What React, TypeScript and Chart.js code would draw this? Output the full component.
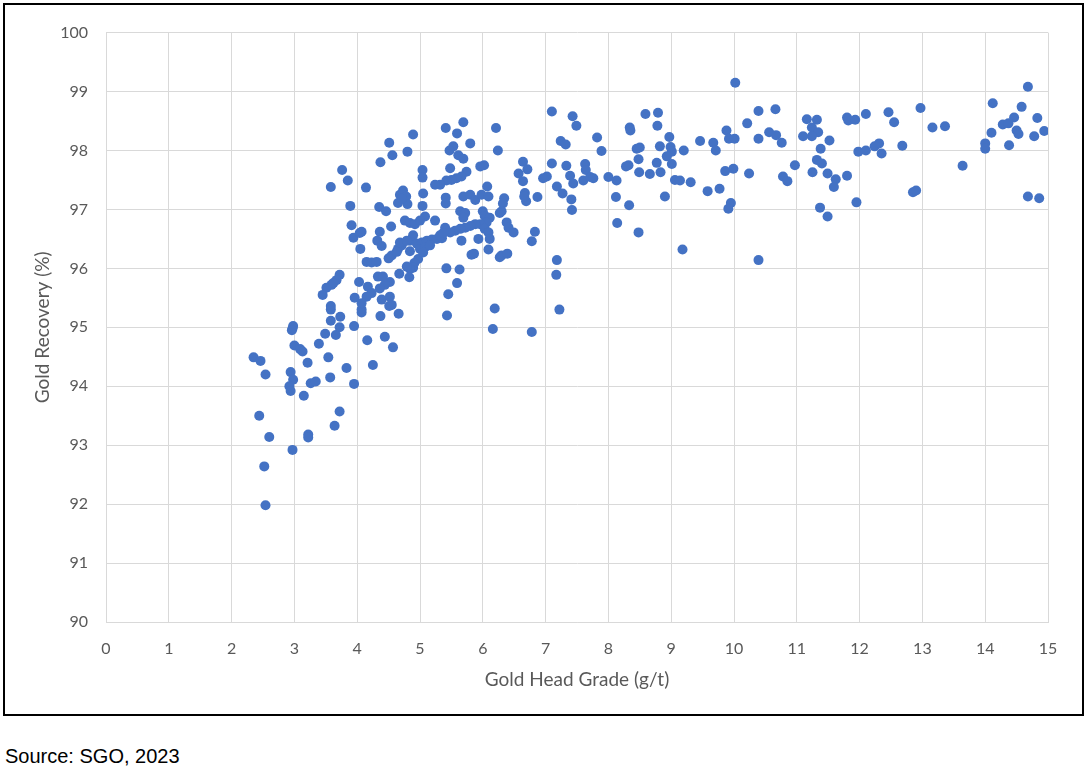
import React, { useEffect, useRef } from 'react';
import { Chart, registerables } from 'chart.js';

Chart.register(...registerables);

type Pt = [number, number]; // [head grade g/t, recovery %]

// head grade below ~4.7 g/t, lower recoveries
const lowGradeTail: Pt[] = [
  [2.35, 94.49], [2.46, 94.43], [2.54, 94.2], [2.44, 93.5], [2.6, 93.14], [2.52, 92.64], [2.54, 91.98], [2.97, 94.98],
  [2.98, 95.02], [2.96, 94.95], [3.0, 94.69], [3.09, 94.63], [3.13, 94.59], [3.21, 94.4], [2.94, 94.24], [2.98, 94.11],
  [2.92, 94.0], [2.94, 93.92], [3.15, 93.84], [3.26, 94.05], [3.34, 94.08], [2.97, 92.92], [3.22, 93.18], [3.22, 93.13],
  [3.39, 94.72], [3.49, 94.89], [3.54, 94.49], [3.57, 94.15], [3.83, 94.31], [3.95, 94.04], [3.72, 93.57], [3.64, 93.33],
  [3.58, 95.11], [3.66, 94.87], [3.72, 95.0], [3.73, 95.18], [3.58, 95.3], [3.58, 95.36], [3.95, 95.02], [4.16, 94.78],
  [4.25, 94.36], [4.44, 94.84], [4.57, 94.66], [4.37, 95.19], [4.66, 95.23], [4.51, 95.36], [4.07, 95.3], [4.07, 95.25],
];

// 3.4 - 5 g/t
const grade3to5: Pt[] = [
  [4.56, 97.92], [4.8, 97.98], [4.37, 97.8], [3.76, 97.67], [3.85, 97.49], [3.58, 97.38], [4.14, 97.37], [3.89, 97.06],
  [3.91, 96.73], [3.94, 96.52], [4.04, 96.6], [4.07, 96.62], [4.05, 96.33], [4.35, 97.04], [4.46, 96.97], [4.36, 96.62],
  [4.32, 96.47], [4.39, 96.38], [4.54, 96.71], [4.68, 97.25], [4.73, 97.32], [4.78, 97.22], [4.65, 97.11], [4.8, 97.09],
  [4.71, 97.18], [4.76, 96.81], [4.84, 96.77], [4.92, 96.75], [4.55, 96.22], [4.65, 96.33], [4.71, 96.39], [4.63, 96.28],
  [4.84, 96.47], [4.89, 96.56], [4.5, 96.17], [4.84, 96.29], [4.15, 96.11], [4.23, 96.1], [4.31, 96.11], [4.97, 96.16],
  [4.91, 96.09], [4.89, 96.01], [4.84, 95.99], [4.67, 95.91], [4.83, 95.85], [4.52, 95.77], [4.44, 95.72], [4.03, 95.77],
  [4.17, 95.69], [4.33, 95.86], [4.41, 95.86], [4.36, 95.66], [4.23, 95.58], [4.15, 95.52], [3.96, 95.5], [4.07, 95.41],
  [4.39, 95.47], [4.52, 95.52], [4.55, 95.38], [3.72, 95.89], [3.67, 95.8], [3.59, 95.72], [3.51, 95.67], [3.45, 95.55],
  [3.62, 95.75], [4.51, 98.13], [4.89, 98.27], [4.68, 96.44], [4.79, 96.47], [4.95, 96.42], [4.79, 96.03],
];

// 5 - 7.2 g/t
const grade5to7: Pt[] = [
  [7.1, 98.66], [5.41, 98.38], [5.69, 98.48], [5.59, 98.29], [5.8, 98.12], [6.21, 98.38], [6.24, 98.0], [5.53, 98.07],
  [5.47, 98.0], [5.61, 97.92], [5.69, 97.86], [5.48, 97.7], [5.04, 97.67], [5.04, 97.54], [5.96, 97.73], [6.02, 97.75],
  [5.74, 97.64], [5.66, 97.56], [5.58, 97.53], [5.5, 97.5], [5.42, 97.49], [5.32, 97.42], [5.24, 97.42], [6.07, 97.39],
  [6.64, 97.81], [6.71, 97.68], [6.57, 97.61], [6.64, 97.48], [7.02, 97.56], [6.96, 97.53], [7.1, 97.78], [7.18, 97.39],
  [6.67, 97.28], [6.69, 97.14], [6.87, 97.21], [6.66, 97.22], [5.05, 97.27], [5.04, 97.06], [5.41, 97.2], [5.41, 97.1],
  [5.69, 97.22], [5.8, 97.25], [5.88, 97.16], [5.98, 97.25], [6.09, 97.22], [6.34, 97.19], [6.32, 97.1], [5.64, 96.97],
  [5.72, 96.94], [5.69, 96.86], [6.0, 96.97], [6.03, 96.89], [6.11, 96.86], [6.27, 96.94], [6.3, 96.97], [6.06, 96.78],
  [5.96, 96.75], [5.88, 96.75], [5.8, 96.72], [5.72, 96.69], [5.64, 96.67], [5.56, 96.64], [5.48, 96.61], [5.4, 96.69],
  [6.38, 96.78], [6.41, 96.69], [6.49, 96.61], [6.03, 96.67], [6.09, 96.61], [6.11, 96.5], [5.93, 96.5], [5.66, 96.47],
  [6.09, 96.32], [5.82, 96.23], [5.86, 96.25], [6.27, 96.19], [6.3, 96.22], [6.39, 96.25], [6.83, 96.62], [6.78, 96.46],
  [7.18, 96.14], [7.17, 95.89], [5.42, 96.0], [5.63, 95.98], [5.59, 95.75], [5.45, 95.56], [5.43, 95.2], [6.19, 95.32],
  [6.16, 94.97], [6.78, 94.92], [7.22, 95.3], [5.08, 96.88], [5.24, 96.81], [5.03, 96.44], [5.11, 96.47], [5.19, 96.49],
  [5.27, 96.5], [5.35, 96.51], [5.0, 96.33], [5.08, 96.36], [5.16, 96.39], [5.32, 96.56], [5.37, 96.6], [5.05, 96.27],
  [5.0, 96.81],
];

// 7.2 - 10.4 g/t
const grade7to10: Pt[] = [
  [10.02, 99.15], [7.43, 98.58], [7.49, 98.42], [7.24, 98.16], [7.32, 98.1], [7.82, 98.22], [7.89, 97.99], [8.59, 98.62],
  [8.79, 98.64], [8.34, 98.39], [8.35, 98.34], [8.78, 98.42], [8.97, 98.23], [8.82, 98.07], [8.99, 98.06], [9.01, 97.98],
  [8.45, 98.03], [8.5, 98.05], [9.46, 98.16], [9.67, 98.13], [9.71, 98.0], [9.2, 98.0], [9.88, 98.34], [9.92, 98.2],
  [10.01, 98.2], [10.21, 98.46], [10.39, 98.67], [10.39, 98.2], [7.33, 97.74], [7.39, 97.57], [7.44, 97.44], [7.27, 97.27],
  [7.41, 97.17], [7.42, 96.99], [7.63, 97.77], [7.64, 97.67], [7.6, 97.49], [7.71, 97.55], [7.76, 97.53], [8.0, 97.55],
  [8.13, 97.49], [8.12, 97.21], [8.33, 97.07], [8.14, 96.77], [8.48, 96.61], [8.32, 97.75], [8.28, 97.73], [8.48, 97.85],
  [8.49, 97.63], [8.66, 97.6], [8.77, 97.79], [8.83, 97.63], [8.9, 97.22], [8.93, 97.9], [9.01, 97.77], [9.06, 97.5],
  [9.14, 97.49], [9.31, 97.46], [9.18, 96.32], [9.58, 97.31], [9.77, 97.35], [9.86, 97.65], [9.99, 97.69], [10.24, 97.61],
  [9.95, 97.11], [9.91, 97.01], [10.39, 96.14],
];

// 10.4 - 13 g/t
const grade10to13: Pt[] = [
  [10.66, 98.7], [10.56, 98.31], [10.67, 98.26], [10.76, 98.13], [11.16, 98.53], [11.32, 98.52], [11.24, 98.39], [11.34, 98.31],
  [11.1, 98.24], [11.24, 98.24], [11.52, 98.17], [11.38, 98.03], [11.8, 98.56], [11.82, 98.51], [11.93, 98.52], [12.1, 98.62],
  [12.46, 98.65], [12.55, 98.48], [11.98, 97.98], [12.1, 98.0], [12.24, 98.07], [12.31, 98.12], [12.35, 97.95], [12.68, 98.08],
  [10.78, 97.56], [10.85, 97.48], [10.97, 97.75], [11.32, 97.84], [11.4, 97.78], [11.25, 97.63], [11.49, 97.61], [11.62, 97.51],
  [11.59, 97.38], [11.8, 97.57], [11.37, 97.03], [11.49, 96.88], [11.95, 97.12], [12.85, 97.29], [12.9, 97.32],
];

// 13 - 15 g/t
const grade13to15: Pt[] = [
  [14.68, 99.08], [12.97, 98.72], [14.12, 98.8], [14.58, 98.74], [14.46, 98.56], [14.83, 98.55], [13.16, 98.39], [13.36, 98.41],
  [14.28, 98.44], [14.37, 98.46], [14.1, 98.3], [14.5, 98.34], [14.53, 98.28], [14.78, 98.24], [14.94, 98.33], [14.0, 98.12],
  [14.0, 98.03], [14.38, 98.09], [13.64, 97.74], [14.68, 97.22], [14.86, 97.19],
];

const gradeRange = [0, 15];
const recoveryRange = [90, 100];

const axisColor = '#595959';
const gridColor = '#D9D9D9';
const fontFamily = 'Lato, "Open Sans", sans-serif';

const App: React.FC = () => {
  const canvasRef = useRef<HTMLCanvasElement | null>(null);
  const chartRef = useRef<Chart | null>(null);

  useEffect(() => {
    if (!canvasRef.current) return;
    if (chartRef.current) chartRef.current.destroy();

    const points = [
      ...lowGradeTail,
      ...grade3to5,
      ...grade5to7,
      ...grade7to10,
      ...grade10to13,
      ...grade13to15,
    ].map(([x, y]) => ({ x, y }));

    chartRef.current = new Chart(canvasRef.current, {
      type: 'scatter',
      data: {
        datasets: [
          {
            label: 'Gold Recovery',
            data: points,
            backgroundColor: '#4472C4',
            borderColor: '#4472C4',
            borderWidth: 0,
            pointRadius: 5,
            pointHoverRadius: 5,
          },
        ],
      },
      options: {
        animation: false,
        responsive: true,
        maintainAspectRatio: false,
        layout: { padding: { left: 0, top: 19, right: 34, bottom: 0 } },
        plugins: {
          legend: { display: false },
          tooltip: { enabled: false },
        },
        scales: {
          x: {
            type: 'linear',
            min: gradeRange[0],
            max: gradeRange[1],
            ticks: { stepSize: 1, padding: 17, color: axisColor, font: { family: fontFamily, size: 16 } },
            grid: { color: gridColor, drawTicks: false },
            border: { color: gridColor },
            title: {
              display: true,
              text: 'Gold Head Grade (g/t)',
              color: axisColor,
              font: { family: fontFamily, size: 19 },
              padding: { top: 0, bottom: 23 },
            },
            afterFit: (scale: any) => {
              scale.height = 92;
            },
          },
          y: {
            type: 'linear',
            min: recoveryRange[0],
            max: recoveryRange[1],
            ticks: { stepSize: 1, padding: 18, color: axisColor, font: { family: fontFamily, size: 16 } },
            grid: { color: gridColor, drawTicks: false },
            border: { color: gridColor },
            title: {
              display: true,
              text: 'Gold Recovery (%)',
              color: axisColor,
              font: { family: fontFamily, size: 19 },
              padding: { top: 26, bottom: 0 },
            },
            afterFit: (scale: any) => {
              scale.width = 101;
            },
          },
        },
      },
    });

    return () => {
      if (chartRef.current) {
        chartRef.current.destroy();
        chartRef.current = null;
      }
    };
  }, []);

  return (
    <>
      <div
        style={{
          position: 'absolute',
          left: 3,
          top: 3,
          width: 1081,
          height: 713,
          boxSizing: 'border-box',
          border: '2px solid #000',
          background: '#fff',
        }}
      >
        <div style={{ position: 'relative', width: 1077, height: 709 }}>
          <canvas ref={canvasRef}></canvas>
        </div>
      </div>
      <div
        style={{
          position: 'absolute',
          left: 5,
          top: 746,
          fontFamily: '"Liberation Sans", Arial, sans-serif',
          fontSize: 20,
          lineHeight: '20px',
          color: '#000',
        }}
      >
        Source: SGO, 2023
      </div>
    </>
  );
};

export default App;
